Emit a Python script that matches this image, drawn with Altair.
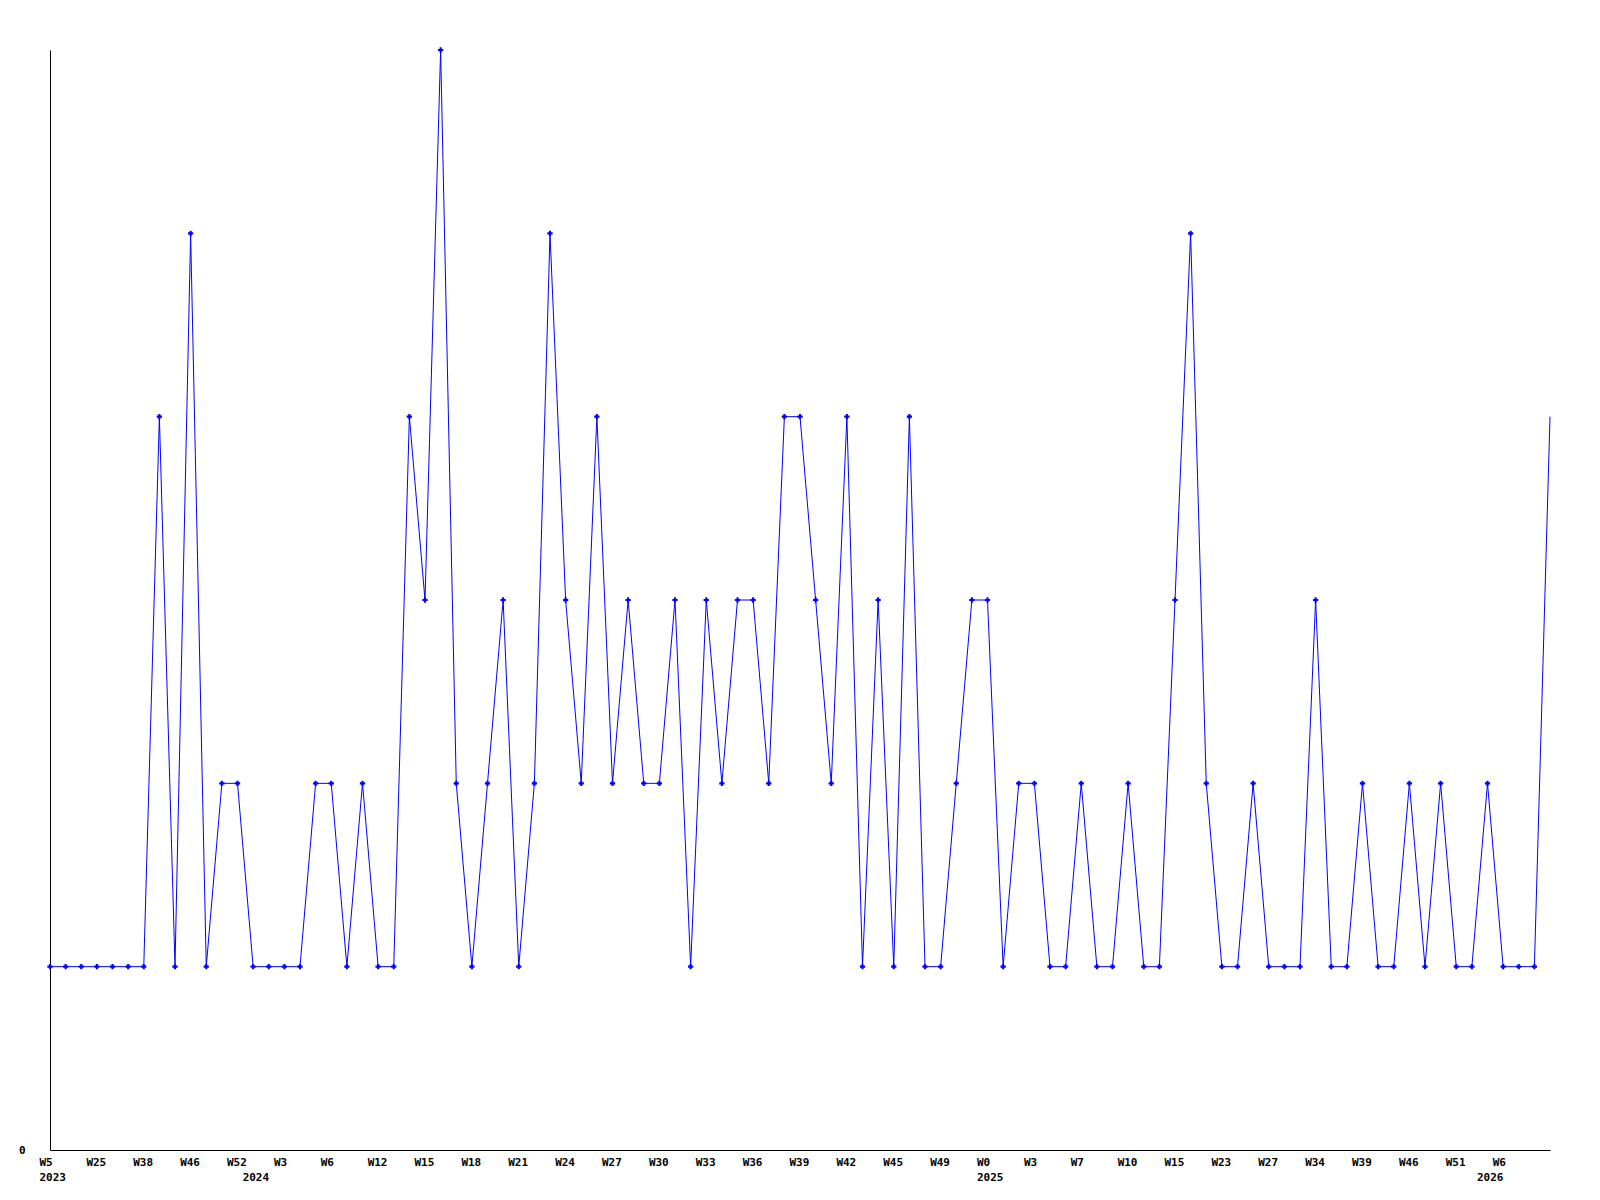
import json
import altair as alt
import pandas as pd

# weekly counts, one per point, in order
values = [1, 1, 1, 1, 1, 1, 1, 4, 1, 5,
          1, 2, 2, 1, 1, 1, 1, 2, 2, 1,
          2, 1, 1, 4, 3, 6, 2, 1, 2, 3,
          1, 2, 5, 3, 2, 4, 2, 3, 2, 2,
          3, 1, 3, 2, 3, 3, 2, 4, 4, 3,
          2, 4, 1, 3, 1, 4, 1, 1, 2, 3,
          3, 1, 2, 2, 1, 1, 2, 1, 1, 2,
          1, 1, 3, 5, 2, 1, 1, 2, 1, 1,
          1, 3, 1, 1, 2, 1, 1, 2, 1, 2,
          1, 1, 2, 1, 1, 1, 4]

# week labels shown on every third point
week_ticks = ["W5", "W25", "W38", "W46", "W52", "W3", "W6", "W12", "W15", "W18",
              "W21", "W24", "W27", "W30", "W33", "W36", "W39", "W42", "W45", "W49",
              "W0", "W3", "W7", "W10", "W15", "W23", "W27", "W34", "W39", "W46",
              "W51", "W6"]
tick_step = 3

# year labels and the point where each year starts
year_labels = ["2023", "2024", "2025", "2026"]
year_start = [0, 13, 60, 92]

df = pd.DataFrame({"i": list(range(len(values))), "v": values})

week_idx = [k * tick_step for k in range(len(week_ticks))]
tick_values = sorted(set(week_idx + year_start))

label_expr = (
    "[indexof({wi}, datum.value) >= 0 ? {wt}[indexof({wi}, datum.value)] : '', "
    "indexof({yi}, datum.value) >= 0 ? {yl}[indexof({yi}, datum.value)] : '']"
).format(wi=json.dumps(week_idx), wt=json.dumps(week_ticks),
         yi=json.dumps(year_start), yl=json.dumps(year_labels))

FONT = "DejaVu Sans Mono"
BLUE = "#0000FF"

x = alt.X("i:Q",
          scale=alt.Scale(domain=[0, len(values) - 1], nice=False, zero=False),
          axis=alt.Axis(values=tick_values, labelExpr=label_expr, title=None,
                        grid=False, ticks=False, domainColor="black", domainWidth=1,
                        labelAlign="left", labelOffset=-11, labelBaseline="top",
                        labelPadding=6, labelLineHeight=15, labelOverlap=False,
                        labelBound=False, labelFlush=False,
                        labelFont=FONT, labelFontSize=11, labelFontWeight="bold",
                        labelColor="black"))
y = alt.Y("v:Q",
          scale=alt.Scale(domain=[0, 6], nice=False),
          axis=alt.Axis(values=[0], title=None, grid=False, ticks=False,
                        domainColor="black", domainWidth=1, labelPadding=25,
                        labelFont=FONT, labelFontSize=11, labelFontWeight="bold",
                        labelColor="black", labelBaseline="middle"))

line = alt.Chart(df).mark_line(color=BLUE, strokeWidth=1).encode(x=x, y=y)
pts = alt.Chart(df).transform_filter(f"datum.i < {len(values) - 1}").mark_point(
    shape="cross", filled=True, color=BLUE, size=28, opacity=1
).encode(x=x, y=y)

chart = alt.layer(line, pts).properties(
    width=1500, height=1100,
    autosize=alt.AutoSizeParams(type="none"),
    padding={"left": 42, "top": 42, "right": 40, "bottom": 40},
).configure(background="white", view=alt.ViewConfig(stroke="transparent", strokeWidth=0))

chart.save("out.html", embed_options={"renderer": "svg", "actions": False})
